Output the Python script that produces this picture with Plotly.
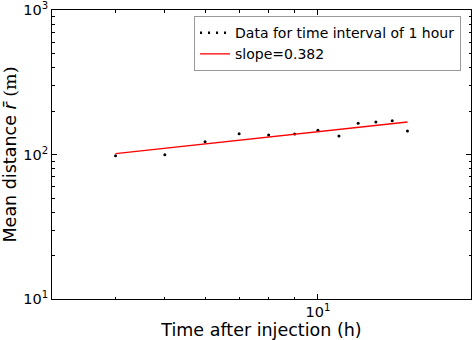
import plotly.graph_objects as go

# Data
time_h = [4, 5, 6, 7, 8, 9, 10, 11, 12, 13, 14, 15]
mean_r = [98.1, 99.7, 122.6, 139.3, 136.4, 138.6, 147.0, 134.3, 164.4, 167.8, 171.3, 145.4]
fit_t = [4, 15]
fit_r = [101.3, 167.9]
slope_label = "slope=0.382"
data_label = "Data for time interval of 1 hour"

x_major = [10]
x_major_text = ["10<sup>1</sup>"]
x_minor = [3, 4, 5, 6, 7, 8, 9, 20]
y_major = [10, 100, 1000]
y_major_text = ["10<sup>1</sup>", "10<sup>2</sup>", "10<sup>3</sup>"]
y_minor = [20, 30, 40, 50, 60, 70, 80, 90, 200, 300, 400, 500, 600, 700, 800, 900]

FONT = "DejaVu Sans"

fig = go.Figure()
fig.add_trace(go.Scatter(
    x=time_h, y=mean_r, mode="markers",
    marker=dict(color="black", size=3), showlegend=False))
# legend entry for the data (matplotlib-like row of dots)
fig.add_trace(go.Scatter(
    x=[None], y=[None], mode="lines", name=data_label,
    line=dict(color="black", width=2.5, dash="2px,6px")))
fig.add_trace(go.Scatter(
    x=fit_t, y=fit_r, mode="lines", name=slope_label,
    line=dict(color="red", width=1.3)))

axis_common = dict(
    type="log", showgrid=False, zeroline=False,
    showline=True, linecolor="black", linewidth=1, mirror="ticks",
    ticks="inside", ticklen=5, tickcolor="black", tickwidth=1,
    tickfont=dict(family=FONT, size=14.5, color="black"),
    ticklabeloverflow="allow",
)

fig.update_xaxes(
    **axis_common, range=[0.47712, 1.30103],
    tickmode="array", tickvals=x_major, ticktext=x_major_text,
    minor=dict(tickmode="array", tickvals=x_minor, ticks="inside", ticklen=2.5,
               tickcolor="black", showgrid=False),
    title=dict(text="Time after injection (h)", font=dict(family=FONT, size=17.5, color="black"),
               standoff=3),
)
fig.update_yaxes(
    **axis_common, range=[1, 3],
    tickmode="array", tickvals=y_major, ticktext=y_major_text,
    minor=dict(tickmode="array", tickvals=y_minor, ticks="inside", ticklen=2.5,
               tickcolor="black", showgrid=False),
    title=dict(text="Mean distance <i>r̄</i> <span style=\"font-family:'DejaVu Serif'\">(m)</span>",
               font=dict(family=FONT, size=17.5, color="black"), standoff=2),
)

fig.update_layout(
    width=472, height=340,
    margin=dict(l=52, r=1, t=10, b=41),
    paper_bgcolor="white", plot_bgcolor="white",
    font=dict(family=FONT, color="black"),
    legend=dict(x=0.339, y=0.979, xanchor="left", yanchor="top",
                bgcolor="white", bordercolor="#999", borderwidth=1,
                font=dict(family=FONT, size=14, color="black"),
                tracegroupgap=0, itemwidth=30),
)

fig.write_html("out.html")
